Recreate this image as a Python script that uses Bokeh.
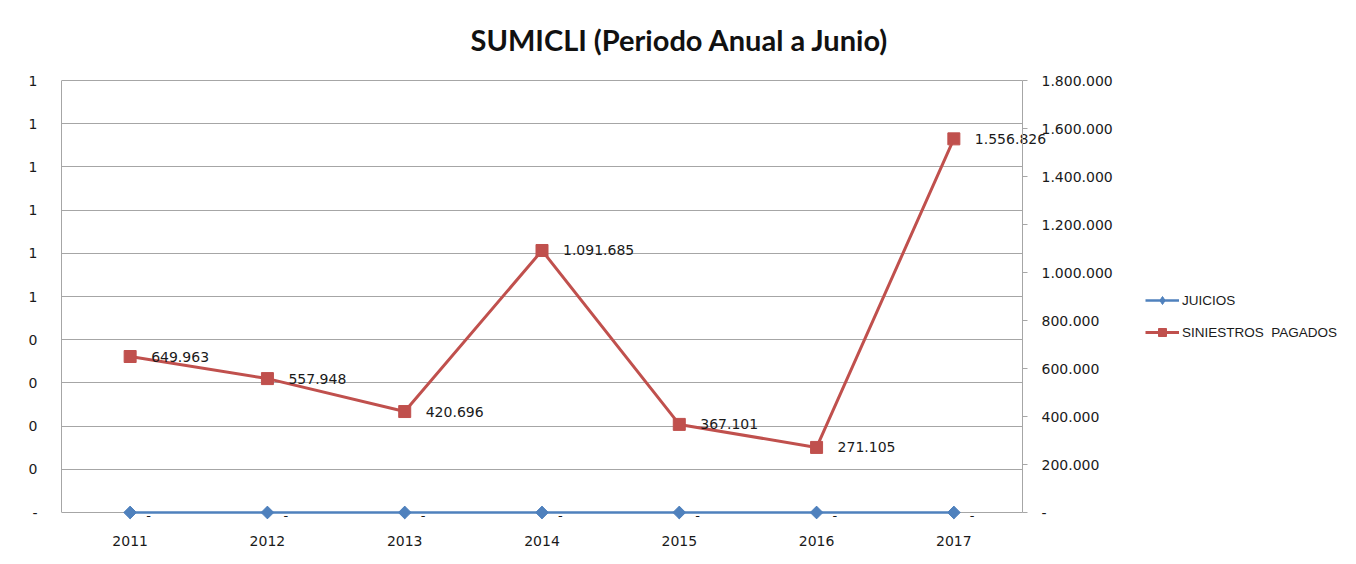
import math
from bokeh.plotting import figure
from bokeh.models import (Range1d, LinearAxis, FixedTicker, CustomJSTickFormatter,
                          Legend, LegendItem, ColumnDataSource)
from bokeh.core.properties import value
from bokeh.embed import file_html
from bokeh.resources import INLINE

title_text = "SUMICLI (Periodo Anual a Junio)"
years = ["2011", "2012", "2013", "2014", "2015", "2016", "2017"]
juicios = [0, 0, 0, 0, 0, 0, 0]
siniestros = [649963, 557948, 420696, 1091685, 367101, 271105, 1556826]
left_ticks = [0.0, 0.1, 0.2, 0.3, 0.4, 0.5, 0.6, 0.7, 0.8, 0.9, 1.0]
left_labels = ["-", "0", "0", "0", "0", "1", "1", "1", "1", "1", "1"]
right_ticks = [0, 200000, 400000, 600000, 800000, 1000000, 1200000, 1400000, 1600000, 1800000]
left_max = 1.0
right_max = 1800000


def fmt(v):
    return "-" if v == 0 else f"{v:,}".replace(",", ".")


BLUE = "#4F81BD"
RED = "#C0504D"
GRID = "#a6a6a6"
TXT = "#1a1a1a"

W, H = 1352, 560
FL, FR = 61, 1348                  # frame left / right edges (px)
AREA_TOP, AREA_BOTTOM = 80, 512    # the chart's plot area (px)
FT = 68                            # frame top, a little above the plot area
FB = H - 40                        # frame bottom, a little below the plot area
PLOT_W = 961                       # width of the category area (px)
n = len(years)
xs = [i + 0.5 for i in range(n)]   # category centres
x_end = n * (FR - FL) / PLOT_W
area_h = AREA_BOTTOM - AREA_TOP
top_pad = (AREA_TOP - FT) / area_h
bot_pad = (FB - AREA_BOTTOM) / area_h

p = figure(width=W, height=H, x_range=Range1d(0, x_end),
           y_range=Range1d(-bot_pad * left_max, (1 + top_pad) * left_max),
           output_backend="svg", toolbar_location=None,
           min_border_left=FL, min_border_right=W - FR, min_border_top=FT, min_border_bottom=H - FB)
p.extra_y_ranges = {"r": Range1d(-bot_pad * right_max, (1 + top_pad) * right_max)}

p.title.text = title_text
p.title.text_font = "Lato"
p.title.text_font_size = "29px"
p.title.text_font_style = "bold"
p.title.align = "left"
p.title.offset = 409
p.title.text_color = "#111111"
p.title.standoff = 24

p.outline_line_color = None
p.xgrid.grid_line_color = None
p.ygrid.grid_line_color = GRID
p.ygrid.ticker = FixedTicker(ticks=left_ticks)
p.ygrid.cross_bounds = (0, n)

# left axis
ya = p.yaxis[0]
ya.ticker = FixedTicker(ticks=left_ticks)
ya.bounds = (0, left_max)
ya.formatter = CustomJSTickFormatter(args=dict(vals=left_ticks, labs=left_labels), code="""
let i = 0, best = 1e9;
for (let k = 0; k < vals.length; k++) { const d = Math.abs(vals[k] - tick); if (d < best) { best = d; i = k; } }
return labs[i];
""")
ya.axis_line_color = GRID
ya.major_tick_out = 0
ya.major_tick_in = 0
ya.minor_tick_line_color = None
ya.major_label_standoff = 24
ya.major_label_text_font = "DejaVu Sans"
ya.major_label_text_font_size = "14px"
ya.major_label_text_color = TXT

# x axis (category labels)
xa = p.xaxis[0]
xa.ticker = FixedTicker(ticks=xs)
xa.major_label_overrides = {x: y for x, y in zip(xs, years)}
xa.axis_line_color = None
xa.major_tick_line_color = None
xa.minor_tick_line_color = None
xa.major_label_standoff = 9
xa.major_label_text_font = "DejaVu Sans"
xa.major_label_text_font_size = "14px"
xa.major_label_text_color = TXT

# right axis, fixed at the right edge of the category area
ra = LinearAxis(y_range_name="r", ticker=FixedTicker(ticks=right_ticks), fixed_location=n,
                bounds=(0, right_max))
ra.formatter = CustomJSTickFormatter(code="""
if (Math.abs(tick) < 0.5) return "-";
return Math.round(tick).toString().replace(/\\B(?=(\\d{3})+(?!\\d))/g, ".");
""")
ra.axis_line_color = GRID
ra.major_tick_line_color = GRID
ra.major_tick_out = 5
ra.major_tick_in = 0
ra.minor_tick_line_color = None
ra.major_label_standoff = 14
ra.major_label_text_font = "DejaVu Sans"
ra.major_label_text_font_size = "14px"
ra.major_label_text_color = TXT
p.add_layout(ra, "right")

src_j = ColumnDataSource(dict(x=xs, y=juicios, lab=[fmt(v) for v in juicios]))
src_s = ColumnDataSource(dict(x=xs, y=siniestros, lab=[fmt(v) for v in siniestros]))

l1 = p.line("x", "y", source=src_j, line_color=BLUE, line_width=2.5)
# diamond glyph used by the legend (sits inside the rotated square markers)
m1_leg = p.scatter("x", "y", source=src_j, marker="diamond", size=12, fill_color=BLUE, line_color=BLUE)
m1 = p.scatter("x", "y", source=src_j, marker="square", angle=math.pi / 4, size=9,
               fill_color=BLUE, line_color=BLUE)
l2 = p.line("x", "y", source=src_s, y_range_name="r", line_color=RED, line_width=3)
m2 = p.scatter("x", "y", source=src_s, y_range_name="r", marker="square", size=12,
               fill_color=RED, line_color=RED)

p.text("x", "y", text="lab", source=src_j, x_offset=16, y_offset=3, text_baseline="middle",
       text_font=value("DejaVu Sans"), text_font_size="13px", text_color=TXT)
p.text("x", "y", text="lab", source=src_s, y_range_name="r", x_offset=21, y_offset=0,
       text_baseline="middle", text_font=value("DejaVu Sans"), text_font_size="14px", text_color=TXT)

legend = Legend(items=[LegendItem(label="JUICIOS", renderers=[l1, m1_leg]),
                       LegendItem(label="SINIESTROS  PAGADOS", renderers=[l2, m2])],
                location=(1145 - FL, FB - 342), orientation="vertical")
legend.border_line_color = None
legend.background_fill_alpha = 0
legend.padding = 0
legend.margin = 0
legend.spacing = 12
legend.glyph_width = 34
legend.glyph_height = 20
legend.label_height = 20
legend.label_standoff = 3
legend.label_text_font = "Liberation Sans"
legend.label_text_font_size = "13.5px"
legend.label_text_color = TXT
p.add_layout(legend, "center")

open("out.html", "w").write(file_html(p, INLINE))
